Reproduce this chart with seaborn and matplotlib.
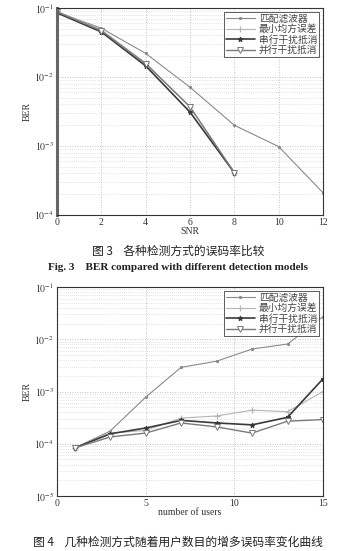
import numpy as np
import pandas as pd
import matplotlib
matplotlib.use("Agg")
import matplotlib.pyplot as plt
import seaborn as sns
from matplotlib.ticker import LogLocator, FixedLocator, FuncFormatter

# ---------------- data ----------------
series_names = ["匹配滤波器", "最小均方误差", "串行干扰抵消", "并行干扰抵消"]

snr = [0, 2, 4, 6, 8, 10, 12]
ber_mf_snr = [0.087, 0.051, 0.022, 0.0071, 0.0020, 0.00098, 0.00021]
snr_short = [0, 2, 4, 6, 8]
ber_mmse_snr = [0.090, 0.048, 0.016, 0.0037, 0.00041]
ber_sic_snr = [0.085, 0.045, 0.0145, 0.0031, 0.00041]
ber_pic_snr = [0.088, 0.047, 0.0155, 0.0037, 0.00041]

users = [1, 3, 5, 7, 9, 11, 13, 15]
ber_mf_users = [8.3e-5, 1.75e-4, 7.8e-4, 2.9e-3, 3.8e-3, 6.5e-3, 8.1e-3, 2.7e-2]
ber_mmse_users = [8.3e-5, 1.6e-4, 1.8e-4, 3.1e-4, 3.4e-4, 4.4e-4, 4.1e-4, 1.0e-3]
ber_sic_users = [8.3e-5, 1.55e-4, 2.0e-4, 2.8e-4, 2.5e-4, 2.3e-4, 3.2e-4, 1.75e-3]
ber_pic_users = [8.3e-5, 1.35e-4, 1.6e-4, 2.5e-4, 2.1e-4, 1.6e-4, 2.7e-4, 2.9e-4]

top_xticks = [0, 2, 4, 6, 8, 10, 12]
bot_xticks = [0, 5, 10, 15]

caption3_cn = "图 3    各种检测方式的误码率比较"
caption3_en = "Fig. 3    BER compared with different detection models"
caption4_cn = "图 4    几种检测方式随着用户数目的增多误码率变化曲线"

# ---------------- style ----------------
sns.set_style("white")
plt.rcParams["font.family"] = ["Liberation Serif", "Noto Sans CJK SC", "DejaVu Sans"]
plt.rcParams["mathtext.fontset"] = "stix"

styles = [
    dict(color="#8a8a8a", marker=".", markersize=3, lw=0.8, mfc="#8a8a8a", mec="#8a8a8a"),
    dict(color="#b4b4b4", marker="+", markersize=4, lw=0.8, mfc="#b4b4b4", mec="#b4b4b4"),
    dict(color="#3a3a3a", marker="*", markersize=3.5, lw=1.2, mfc="#3a3a3a", mec="#3a3a3a"),
    dict(color="#7a7a7a", marker="v", markersize=4.5, lw=1.0, mfc="white", mec="#7a7a7a", mew=0.7),
]

fig = plt.figure(figsize=(3.56, 5.51), dpi=100)
ax1 = fig.add_axes([57/356, 1-215/551, (323-57)/356, (215-8)/551])
ax2 = fig.add_axes([57/356, 1-496/551, (323-57)/356, (496-287)/551])

def pow_fmt(v, pos):
    e = int(round(np.log10(v)))
    return r"$10^{%d}$" % e

def draw(ax, xs_list, ys_list, xlim, ylim, xticks, xlabel):
    for name, xs, ys, st in zip(series_names, xs_list, ys_list, styles):
        df = pd.DataFrame({"x": xs, "y": ys})
        sns.lineplot(data=df, x="x", y="y", ax=ax, label=name,
                     color=st["color"], linewidth=st["lw"], marker=st["marker"],
                     markersize=st["markersize"], markerfacecolor=st["mfc"],
                     markeredgecolor=st["mec"], markeredgewidth=st.get("mew", 0.8))
    ax.set_yscale("log")
    ax.set_xlim(*xlim)
    ax.set_ylim(*ylim)
    ax.xaxis.set_major_locator(FixedLocator(xticks))
    ax.yaxis.set_major_locator(LogLocator(base=10, numticks=10))
    ax.yaxis.set_minor_locator(LogLocator(base=10, subs=np.arange(2, 10), numticks=20))
    ax.yaxis.set_major_formatter(FuncFormatter(pow_fmt))
    ax.yaxis.set_minor_formatter(FuncFormatter(lambda v, p: ""))
    ax.grid(True, which="major", ls=(0, (1, 2)), color="#b0b0b0", lw=0.6)
    ax.grid(True, which="minor", axis="y", ls=(0, (1, 2)), color="#c8c8c8", lw=0.5)
    ax.tick_params(axis="both", which="major", labelsize=7, length=2, direction="in",
                   colors="#333333", pad=2)
    ax.tick_params(axis="y", which="minor", length=0)
    ax.set_xlabel(xlabel, fontsize=7, labelpad=0, color="#333333")
    ax.set_ylabel("BER", fontsize=7, labelpad=2, color="#333333")
    for s in ax.spines.values():
        s.set_color("#333333")
        s.set_linewidth(0.8)
    leg = ax.legend(loc="upper right", fontsize=7, frameon=True, fancybox=False,
                    handlelength=3, handletextpad=0.4, borderpad=0.2,
                    labelspacing=0.05, borderaxespad=0.4,
                    prop={"family": ["Noto Sans CJK SC"], "size": 7})
    leg.get_frame().set_edgecolor("#333333")
    leg.get_frame().set_linewidth(0.7)
    for t in leg.get_texts():
        t.set_color("#444444")

draw(ax1, [snr, snr_short, snr_short, snr_short],
     [ber_mf_snr, ber_mmse_snr, ber_sic_snr, ber_pic_snr],
     (0, 12), (1e-4, 1e-1), top_xticks, "SNR")
ax1.spines["left"].set_linewidth(2.2)
ax1.spines["left"].set_color("#666666")

draw(ax2, [users] * 4,
     [ber_mf_users, ber_mmse_users, ber_sic_users, ber_pic_users],
     (0, 15), (1e-5, 1e-1), bot_xticks, "number of users")

fig.text(0.5, 1-251/551, caption3_cn, ha="center", va="center", fontsize=8.5,
         family=["Noto Sans CJK SC"], color="#222222")
fig.text(0.5, 1-267/551, caption3_en, ha="center", va="center", fontsize=8,
         fontweight="bold", family=["Liberation Serif"], color="#222222")
fig.text(0.5, 1-542/551, caption4_cn, ha="center", va="center", fontsize=8.5,
         family=["Noto Sans CJK SC"], color="#222222")

fig.savefig("out.png", dpi=100, facecolor="white")
